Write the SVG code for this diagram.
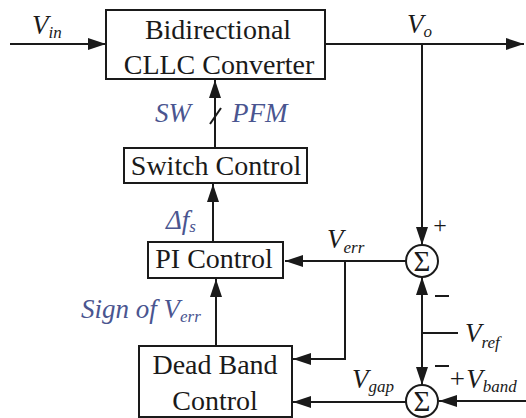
<svg xmlns="http://www.w3.org/2000/svg" width="526" height="418" viewBox="0 0 526 418">
<defs>
<marker id="ah" viewBox="0 0 18 12" refX="18" refY="6" markerWidth="18" markerHeight="12" markerUnits="userSpaceOnUse" orient="auto">
<path d="M0,0 L18,6 L0,12 Z" fill="#1a1a1a"/>
</marker>
</defs>
<rect width="526" height="418" fill="#fff"/>
<g id="connectors" fill="none" stroke="#1a1a1a" stroke-width="2">
<line x1="10" y1="44" x2="106" y2="44" marker-end="url(#ah)"/>
<line x1="325" y1="44" x2="524" y2="44" marker-end="url(#ah)"/>
<line x1="422" y1="44" x2="422" y2="245" marker-end="url(#ah)"/>
<line x1="215" y1="148" x2="215" y2="80" marker-end="url(#ah)"/>
<line x1="210" y1="124" x2="221" y2="108"/>
<line x1="213" y1="242" x2="213" y2="184" marker-end="url(#ah)"/>
<line x1="216" y1="346" x2="216" y2="279" marker-end="url(#ah)"/>
<line x1="406" y1="261" x2="285" y2="261" marker-end="url(#ah)"/>
<polyline points="345,261 345,359 293,359" marker-end="url(#ah)"/>
<line x1="422" y1="333" x2="422" y2="277" marker-end="url(#ah)"/>
<line x1="422" y1="333" x2="422" y2="385" marker-end="url(#ah)"/>
<line x1="422" y1="333" x2="458" y2="333"/>
<line x1="406" y1="402" x2="293" y2="402" marker-end="url(#ah)"/>
<line x1="526" y1="401" x2="439" y2="401" marker-end="url(#ah)"/>
<line x1="435" y1="296" x2="449" y2="296"/>
<line x1="435" y1="366" x2="449" y2="366"/>
</g>
<g id="converter">
<rect x="106" y="10" width="219" height="69" fill="#fff" stroke="#1a1a1a" stroke-width="2"/>
<text x="218" y="39" font-family="Times New Roman" font-size="28" fill="#1a1a1a" text-anchor="middle">Bidirectional</text>
<text x="219" y="74" font-family="Times New Roman" font-size="28" fill="#1a1a1a" text-anchor="middle">CLLC Converter</text>
</g>
<g id="switch-control">
<rect x="124" y="148" width="183" height="35" fill="#fff" stroke="#1a1a1a" stroke-width="2"/>
<text x="216" y="175" font-family="Times New Roman" font-size="28" fill="#1a1a1a" text-anchor="middle">Switch Control</text>
</g>
<g id="pi-control">
<rect x="148" y="242" width="135" height="36" fill="#fff" stroke="#1a1a1a" stroke-width="2"/>
<text x="214" y="268" font-family="Times New Roman" font-size="28" fill="#1a1a1a" text-anchor="middle">PI Control</text>
</g>
<g id="dead-band-control">
<rect x="139" y="346" width="153" height="71" fill="#fff" stroke="#1a1a1a" stroke-width="2"/>
<text x="215" y="374" font-family="Times New Roman" font-size="28" fill="#1a1a1a" text-anchor="middle">Dead Band</text>
<text x="215" y="410" font-family="Times New Roman" font-size="28" fill="#1a1a1a" text-anchor="middle">Control</text>
</g>
<g id="sum1">
<circle cx="422" cy="261" r="16" fill="#fff" stroke="#1a1a1a" stroke-width="2"/>
<text x="422" y="271" font-family="Times New Roman" font-size="29" fill="#1a1a1a" text-anchor="middle">Σ</text>
</g>
<g id="sum2">
<circle cx="422" cy="401" r="16" fill="#fff" stroke="#1a1a1a" stroke-width="2"/>
<text x="422" y="411" font-family="Times New Roman" font-size="29" fill="#1a1a1a" text-anchor="middle">Σ</text>
</g>
<g id="labels">
<text x="32" y="34" font-family="Times New Roman" font-style="italic" font-size="27" fill="#1a1a1a">V<tspan font-size="17" dy="4">in</tspan></text>
<text x="407" y="33" font-family="Times New Roman" font-style="italic" font-size="27" fill="#1a1a1a">V<tspan font-size="17" dy="4">o</tspan></text>
<text x="155" y="122" font-family="Times New Roman" font-style="italic" font-size="27" fill="#4a5590">SW</text>
<text x="232" y="122" font-family="Times New Roman" font-style="italic" font-size="27" fill="#4a5590">PFM</text>
<text x="166" y="229" font-family="Times New Roman" font-style="italic" font-size="27" fill="#4a5590">Δf<tspan font-size="17" dy="3">s</tspan></text>
<text x="81" y="318" font-family="Times New Roman" font-style="italic" font-size="27" fill="#4a5590">Sign of V<tspan font-size="17" dy="4">err</tspan></text>
<text x="327" y="248" font-family="Times New Roman" font-style="italic" font-size="27" fill="#1a1a1a">V<tspan font-size="17" dy="5">err</tspan></text>
<text x="352" y="388" font-family="Times New Roman" font-style="italic" font-size="27" fill="#1a1a1a">V<tspan font-size="17" dy="4">gap</tspan></text>
<text x="465" y="342" font-family="Times New Roman" font-style="italic" font-size="27" fill="#1a1a1a">V<tspan font-size="17" dy="6">ref</tspan></text>
<text x="448" y="388" font-family="Times New Roman" font-style="italic" font-size="27" fill="#1a1a1a">+V<tspan font-size="17" dy="4">band</tspan></text>
<text x="440" y="233" font-family="Times New Roman" font-size="24" fill="#1a1a1a" text-anchor="middle">+</text>
</g>
</svg>
